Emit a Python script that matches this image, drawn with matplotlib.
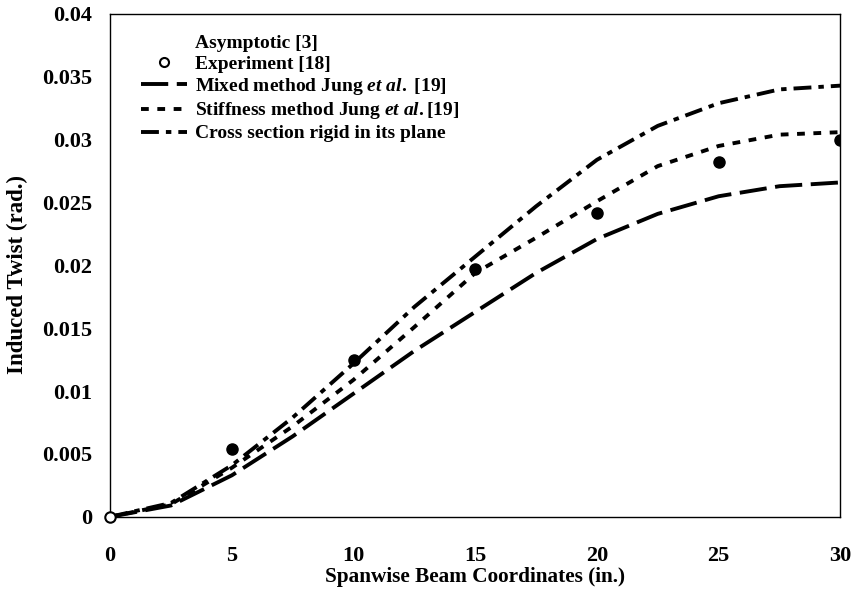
import matplotlib
matplotlib.use("Agg")
import matplotlib.pyplot as plt
from matplotlib.lines import Line2D

plt.rcParams["font.family"] = ["Liberation Serif", "DejaVu Serif"]
plt.rcParams["font.weight"] = "bold"
plt.rcParams["axes.labelweight"] = "bold"
plt.rcParams["mathtext.fontset"] = "custom"
plt.rcParams["mathtext.rm"] = "Liberation Serif:bold"
plt.rcParams["mathtext.it"] = "Liberation Serif:italic:bold"

# Spanwise stations (in.)
span = [0, 2.5, 5, 7.5, 10, 12.5, 15, 17.5, 20, 22.5, 25, 27.5, 30]

# Induced twist (rad.) from each method
mixed = [0, 0.0009, 0.0033, 0.0064, 0.0098, 0.0132, 0.0163, 0.0194, 0.0221,
         0.0241, 0.0255, 0.0263, 0.0266]
stiffness = [0, 0.0010, 0.0039, 0.0072, 0.0109, 0.0151, 0.0194, 0.0222, 0.0251,
             0.0279, 0.0295, 0.0304, 0.0306]
rigid = [0, 0.0011, 0.0041, 0.0079, 0.0122, 0.0167, 0.0207, 0.0247, 0.0284,
         0.0311, 0.0329, 0.0340, 0.0343]

# Experimental measurements
exp_x = [0, 5, 10, 15, 20, 25, 30]
exp_y = [0, 0.0054, 0.0125, 0.0197, 0.0242, 0.0282, 0.0300]

labels = ["Asymptotic [3]",
          "Experiment [18]",
          r"Mixed method Jung $\mathit{et\ al.}$ [19]",
          r"Stiffness method Jung $\mathit{et\ al.}$[19]",
          "Cross section rigid in its plane"]

fig = plt.figure(figsize=(8.54, 6.08), dpi=100)
ax = fig.add_axes([0.129, 0.150, 0.855, 0.827])

lw = 2.8
mixed_dash = (7.0, 2.2)
stiff_dash = (2.0, 2.2)
rigid_dash = (4.6, 1.8, 1.4, 1.8)
ax.plot(span, mixed, color="black", lw=lw, dashes=mixed_dash)
ax.plot(span, stiffness, color="black", lw=lw, dashes=stiff_dash)
ax.plot(span, rigid, color="black", lw=lw, dashes=rigid_dash)

ax.plot(exp_x[1:], exp_y[1:], "o", color="black", ms=8, zorder=5)
ax.plot(exp_x[:1], exp_y[:1], "o", mfc="white", mec="black", mew=1.5, ms=7.5,
        zorder=6, clip_on=False)

handles = [
    Line2D([], [], color="none"),
    Line2D([], [], ls="none", marker="o", mfc="white", mec="black", mew=1.5, ms=6.5),
    Line2D([], [], color="black", lw=lw, dashes=mixed_dash),
    Line2D([], [], color="black", lw=lw, dashes=stiff_dash),
    Line2D([], [], color="black", lw=lw, dashes=rigid_dash),
]
ax.legend(handles, labels, loc="upper left", bbox_to_anchor=(0.031, 0.975),
          frameon=False, fontsize=14, handlelength=2.4, handletextpad=0.4,
          labelspacing=0.17, borderaxespad=0)

ax.set_xlim(0, 30)
ax.set_ylim(0, 0.04)
ax.set_xticks([0, 5, 10, 15, 20, 25, 30])
ax.set_xticklabels(["0", "5", "10", "15", "20", "25", "30"])
ax.set_yticks([0, 0.005, 0.01, 0.015, 0.02, 0.025, 0.03, 0.035, 0.04])
ax.set_yticklabels(["0", "0.005", "0.01", "0.015", "0.02", "0.025", "0.03", "0.035", "0.04"])
ax.tick_params(length=0, labelsize=16)
ax.tick_params(axis="x", pad=21)
ax.tick_params(axis="y", pad=13)
for s in ax.spines.values():
    s.set_linewidth(1.0)

ax.set_xlabel("Spanwise Beam Coordinates (in.)", fontsize=15.3, labelpad=1)
ax.set_ylabel("Induced Twist (rad.)", fontsize=16.5)
ax.yaxis.set_label_coords(-0.112, 0.481)

fig.savefig("out.png", dpi=100)
